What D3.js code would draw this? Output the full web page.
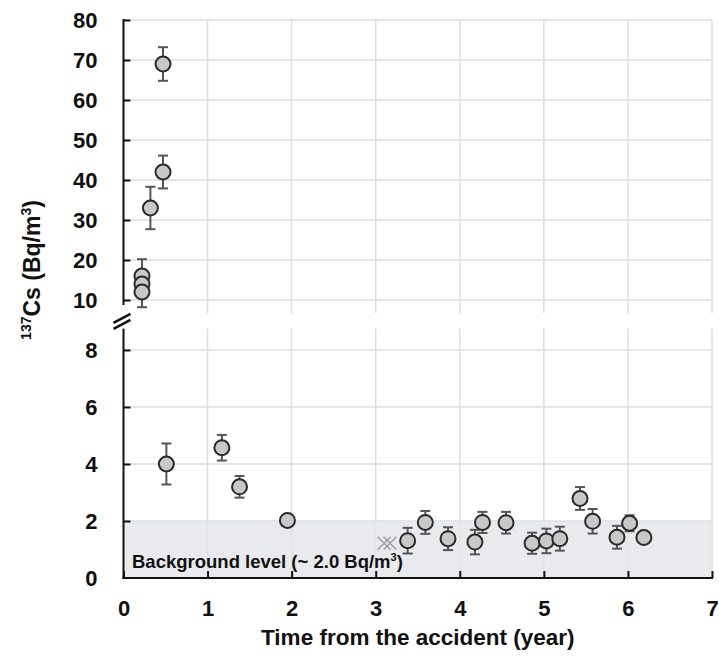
<!DOCTYPE html>
<html>
<head>
<meta charset="utf-8">
<script src="https://cdn.jsdelivr.net/npm/d3@7/dist/d3.min.js"></script>
<style>
  html, body { margin: 0; padding: 0; background: #fff; }
  svg { display: block; font-family: "Liberation Sans", Arial, sans-serif; font-weight: bold; }
</style>
</head>
<body>
<svg id="chart" width="719" height="658"></svg>
<script>
// Measured 137Cs concentrations (time in years after the accident)
const years  = [0.22, 0.22, 0.22, 0.32, 0.47, 0.47, 0.51, 1.17, 1.38, 1.95,
                3.38, 3.59, 3.86, 4.18, 4.27, 4.55, 4.86, 5.03, 5.19, 5.43,
                5.58, 5.87, 6.02, 6.19];
const values = [16, 14, 12, 33, 42, 69, 4.0, 4.57, 3.2, 2.02,
                1.31, 1.95, 1.38, 1.26, 1.95, 1.94, 1.22, 1.30, 1.38, 2.79,
                1.99, 1.43, 1.92, 1.42];
const errors = [4.2, 3.0, 3.8, 5.3, 4.1, 4.2, 0.72, 0.45, 0.38, 0,
                0.45, 0.40, 0.40, 0.43, 0.37, 0.38, 0.37, 0.43, 0.42, 0.40,
                0.43, 0.40, 0.28, 0];

// Below-detection samples drawn as crosses
const crossYears  = [3.10, 3.17];
const crossValues = [1.22, 1.22];

// Axis ticks
const xTicks      = [0, 1, 2, 3, 4, 5, 6, 7];
const topTicks    = [10, 20, 30, 40, 50, 60, 70, 80];
const bottomTicks = [0, 2, 4, 6, 8];

// Background level band
const backgroundLevel = 2.0;
const backgroundLabel = "Background level (~ 2.0 Bq/m";

const svg = d3.select("#chart");

const x = d3.scaleLinear().domain([0, 7]).range([123.5, 712]);
const yTop = d3.scaleLinear().domain([6.75, 80]).range([313, 20]);
const yBot = d3.scaleLinear().domain([0, 8.75]).range([578, 328.6]);
const splitAt = 9;
const panelScale = v => v >= splitAt ? yTop : yBot;

const gridColor = "#dedede";

// ---- grid: upper panel
const gTop = svg.append("g");
gTop.selectAll("line.h").data(topTicks).join("line")
  .attr("x1", x(0)).attr("x2", x(7))
  .attr("y1", d => yTop(d)).attr("y2", d => yTop(d))
  .attr("stroke", gridColor).attr("stroke-width", 1.5);
gTop.selectAll("line.v").data(xTicks.slice(1)).join("line")
  .attr("x1", d => x(d)).attr("x2", d => x(d))
  .attr("y1", yTop(80)).attr("y2", yTop(6.75))
  .attr("stroke", gridColor).attr("stroke-width", 1.5);

// ---- grid: lower panel
const gBot = svg.append("g");
gBot.selectAll("line.h").data(bottomTicks.slice(1)).join("line")
  .attr("x1", x(0)).attr("x2", x(7))
  .attr("y1", d => yBot(d)).attr("y2", d => yBot(d))
  .attr("stroke", gridColor).attr("stroke-width", 1.5);
gBot.selectAll("line.v").data(xTicks.slice(1)).join("line")
  .attr("x1", d => x(d)).attr("x2", d => x(d))
  .attr("y1", yBot(8.75)).attr("y2", yBot(0))
  .attr("stroke", gridColor).attr("stroke-width", 1.5);

// ---- background band
svg.append("rect")
  .attr("x", x(0)).attr("width", x(7) - x(0))
  .attr("y", yBot(backgroundLevel)).attr("height", yBot(0) - yBot(backgroundLevel))
  .attr("fill", "#e4e5e8").attr("fill-opacity", 0.8);

const bgText = svg.append("text")
  .attr("x", 132).attr("y", 568)
  .attr("font-size", 18.5).attr("fill", "#111");
bgText.append("tspan").text(backgroundLabel);
bgText.append("tspan").attr("dy", -7).attr("font-size", 11).text("3");
bgText.append("tspan").attr("dy", 7).text(")");

// ---- axes
function styleAxis(g) {
  g.select(".domain").remove();
  g.selectAll(".tick line").attr("stroke", "#111").attr("stroke-width", 2);
  g.selectAll(".tick text").attr("font-size", 22).attr("fill", "#111")
    .attr("font-family", "Liberation Sans, Arial, sans-serif").attr("font-weight", "bold");
}

svg.append("g")
  .attr("transform", `translate(${x(0)},0)`)
  .call(d3.axisLeft(yTop).tickValues(topTicks).tickFormat(d3.format("d"))
    .tickSizeInner(-7).tickSizeOuter(0).tickPadding(26))
  .call(styleAxis);

svg.append("g")
  .attr("transform", `translate(${x(0)},0)`)
  .call(d3.axisLeft(yBot).tickValues(bottomTicks).tickFormat(d3.format("d"))
    .tickSizeInner(-7).tickSizeOuter(0).tickPadding(26))
  .call(styleAxis)
  .call(g => g.selectAll(".tick").filter(d => d === 0).select("line").remove());

svg.append("g")
  .attr("transform", `translate(0,${yBot(0)})`)
  .call(d3.axisBottom(x).tickValues(xTicks).tickFormat(d3.format("d"))
    .tickSizeInner(-7).tickSizeOuter(0).tickPadding(22))
  .call(styleAxis)
  .call(g => g.selectAll(".tick text").attr("dy", "0.71em"));

// axis lines
svg.append("line")
  .attr("x1", x(0)).attr("x2", x(0))
  .attr("y1", yTop(80) - 1).attr("y2", yTop(8.75))
  .attr("stroke", "#111").attr("stroke-width", 2);
svg.append("line")
  .attr("x1", x(0)).attr("x2", x(0))
  .attr("y1", yBot(8.75)).attr("y2", yBot(0) + 1)
  .attr("stroke", "#111").attr("stroke-width", 2);
svg.append("line")
  .attr("x1", x(0) - 1).attr("x2", x(7) + 1)
  .attr("y1", yBot(0)).attr("y2", yBot(0))
  .attr("stroke", "#111").attr("stroke-width", 2);

// axis break marks
const breakY = (yTop(6.75) + yBot(8.75)) / 2;
[-3, 3].forEach(off => {
  svg.append("line")
    .attr("x1", x(0) - 10).attr("y1", breakY + off + 5)
    .attr("x2", x(0) + 7).attr("y2", breakY + off - 4)
    .attr("stroke", "#111").attr("stroke-width", 2.6);
});

// ---- crosses
const crossG = svg.append("g").attr("stroke", "#9a9a9a").attr("stroke-width", 1.3);
crossYears.forEach((yr, i) => {
  const cx = x(yr), cy = yBot(crossValues[i]), s = 6.5;
  crossG.append("line").attr("x1", cx - s).attr("y1", cy - s).attr("x2", cx + s).attr("y2", cy + s);
  crossG.append("line").attr("x1", cx - s).attr("y1", cy + s).attr("x2", cx + s).attr("y2", cy - s);
});

// ---- error bars and points (each drawn in the panel of its own value)
const points = years.map((yr, i) => ({ yr, v: values[i], e: errors[i] }));
const errG = svg.append("g").attr("stroke", "#555").attr("stroke-width", 2);
points.filter(p => p.e > 0).forEach(p => {
  const ys = panelScale(p.v);
  const cx = x(p.yr), y1 = ys(p.v + p.e), y2 = ys(p.v - p.e);
  errG.append("line").attr("x1", cx).attr("x2", cx).attr("y1", y1).attr("y2", y2);
  errG.append("line").attr("x1", cx - 5).attr("x2", cx + 5).attr("y1", y1).attr("y2", y1);
  errG.append("line").attr("x1", cx - 5).attr("x2", cx + 5).attr("y1", y2).attr("y2", y2);
});

svg.append("g").selectAll("circle").data(points).join("circle")
  .attr("cx", d => x(d.yr)).attr("cy", d => panelScale(d.v)(d.v)).attr("r", 7.5)
  .attr("fill", "#c8c8c8").attr("stroke", "#2a2a2a").attr("stroke-width", 2);

// ---- axis titles
svg.append("text")
  .attr("x", (x(0) + x(7)) / 2).attr("y", 645)
  .attr("text-anchor", "middle").attr("font-size", 22.5).attr("fill", "#111")
  .text("Time from the accident (year)");

const yTitle = svg.append("text")
  .attr("transform", "translate(40,270) rotate(-90)")
  .attr("text-anchor", "middle").attr("font-size", 23).attr("fill", "#111");
yTitle.append("tspan").attr("font-size", 14).attr("dy", -9).text("137");
yTitle.append("tspan").attr("dy", 9).text("Cs (Bq/m");
yTitle.append("tspan").attr("font-size", 14).attr("dy", -9).text("3");
yTitle.append("tspan").attr("dy", 9).text(")");
</script>
</body>
</html>
